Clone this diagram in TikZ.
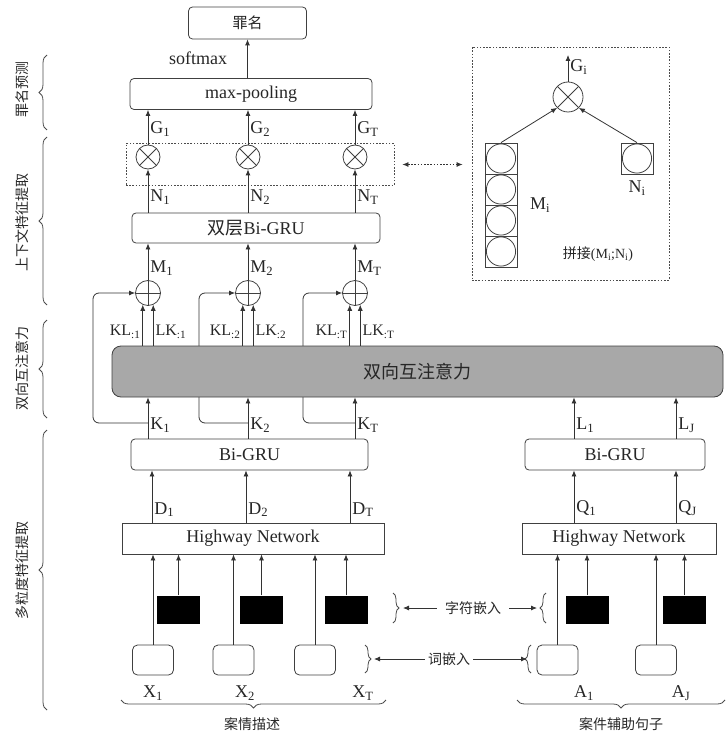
\documentclass[tikz,border=0pt]{standalone}
\usepackage{fontspec}
\setmainfont{Liberation Serif}
\newfontfamily\cjk{Noto Sans CJK SC}
\usetikzlibrary{positioning,arrows.meta,calc,decorations.pathreplacing}

\begin{document}
\begin{tikzpicture}[
  x=1pt, y=-1pt,
  every node/.style={font=\fontsize{18}{20}\selectfont, text=black!85},
  ln/.style={draw=black!75, line width=0.8pt},
  box/.style={ln, rounded corners=4pt, minimum height=30pt, inner sep=0pt},
  flat/.style={ln, minimum height=31pt, inner sep=0pt},
  dotbox/.style={draw=black!70, line width=0.8pt, dash pattern=on 1.6pt off 1.6pt},
  mul/.style={ln, circle, minimum size=24pt, inner sep=0pt, path picture={
      \draw[black!75, line width=0.8pt] (path picture bounding box.south west) -- (path picture bounding box.north east)
        (path picture bounding box.north west) -- (path picture bounding box.south east);}},
  add/.style={ln, circle, minimum size=25pt, inner sep=0pt, path picture={
      \draw[black!75, line width=0.8pt] (path picture bounding box.north) -- (path picture bounding box.south)
        (path picture bounding box.west) -- (path picture bounding box.east);}},
  chr/.style={fill=black, minimum width=43pt, minimum height=28pt, inner sep=0pt},
  wrd/.style={ln, rounded corners=5pt, minimum width=41pt, minimum height=30pt, inner sep=0pt},
  cell/.style={ln, minimum width=32pt, minimum height=31pt, inner sep=0pt, path picture={
      \draw[black!75, line width=0.8pt] (path picture bounding box.center) circle (14.6pt);}},
  arr/.style={black!80, line width=0.8pt, -{Latex[length=6pt, width=5pt]}},
  darr/.style={arr, {Latex[length=6pt, width=5pt]}-{Latex[length=6pt, width=5pt]}, dash pattern=on 1.6pt off 1.6pt},
  lab/.style={anchor=west, inner sep=2pt},
  kl/.style={font=\fontsize{16}{18}\selectfont, inner sep=2pt},
  side/.style={font=\cjk\fontsize{14}{16}\selectfont, rotate=90},
  small/.style={font=\cjk\fontsize{14}{16}\selectfont},
  brc/.style={black!70, line width=0.8pt, decorate, decoration={brace, amplitude=8pt}},
]
\useasboundingbox (0,0) rectangle (725,735);

% prediction
\node[box, minimum width=118pt, minimum height=32pt, font=\cjk\fontsize{15}{17}\selectfont] (crime) at (247.5,23) {罪名};
\node[box, minimum width=242pt, minimum height=31pt] (pool) at (251,94) {max-pooling};
\node (soft) at (198,58) {softmax};
\draw[arr] (crime |- pool.north) -- (crime.south);

% context features
\node[dotbox, minimum width=268pt, minimum height=42pt] (att) at (260,164.5) {};
\node[box, minimum width=248pt] (rnn2) at (256,228) {{\cjk 双层}Bi-GRU};

\foreach \i/\x/\bx in {1/148/93, 2/248/199, 3/355/303}{
  \node[mul] (mul\i) at (\x,157) {};
  \node[add] (add\i) at (\x,293) {};
  \coordinate (bp\i) at (\bx,423);
  % residual path, runs behind the attention block
  \draw[arr, rounded corners=6pt] (add\i |- bp\i) -- (bp\i) |- (add\i.west);
}

% bidirectional attention
\node[fill=black!34, draw=black!75, line width=0.8pt, rounded corners=9pt, minimum width=611pt, minimum height=51pt,
      font=\cjk\fontsize{18}{20}\selectfont] (biatt) at (417.5,371.5) {双向互注意力};

% encoders
\node[box, minimum width=237pt, minimum height=31pt] (gru1) at (249.5,454.5) {Bi-GRU};
\node[box, minimum width=180pt, minimum height=31pt] (gru2) at (615,454.5) {Bi-GRU};
\node[flat, minimum width=262pt] (hw1) at (253,538.5) {Highway Network};
\node[flat, minimum width=194pt] (hw2) at (619,538.5) {Highway Network};

\foreach \i/\s in {1/1, 2/2, 3/T}{
  \draw[arr] (mul\i.north) -- node[lab, pos=.45] {G\textsubscript{\s}} (mul\i |- pool.south);
  \draw[arr] (mul\i |- rnn2.north) -- node[lab, pos=.36] {N\textsubscript{\s}} (mul\i.south);
  \draw[arr] (add\i.north) -- node[lab, pos=.33] {M\textsubscript{\s}} (add\i |- rnn2.south);
  \draw[arr] (add\i.-114 |- biatt.north) -- node[kl, anchor=east, pos=.33] {KL\textsubscript{:\s}} (add\i.-114);
  \draw[arr] (add\i.-66 |- biatt.north) -- node[kl, anchor=west, pos=.33] {LK\textsubscript{:\s}} (add\i.-66);
  \draw[arr] (add\i |- gru1.north) -- node[lab, pos=.33] {K\textsubscript{\s}} (add\i |- biatt.south);
}
\foreach \x/\s in {574/1, 676/J}
  \draw[arr] (gru2.north -| \x,0) -- node[lab, pos=.33] {L\textsubscript{\s}} (biatt.south -| \x,0);
\foreach \x/\s in {152/1, 246/2, 350/T}
  \draw[arr] (hw1.north -| \x,0) -- node[lab, pos=.25] {D\textsubscript{\s}} (gru1.south -| \x,0);
\foreach \x/\s in {574/1, 676/J}
  \draw[arr] (hw2.north -| \x,0) -- node[lab, pos=.28] {Q\textsubscript{\s}} (gru2.south -| \x,0);

% embeddings
\foreach \i/\wx/\cx in {1/153/178.5, 2/233.5/261.5, 3/315/346}{
  \node[wrd] (w\i) at (\wx,660) {};
  \node[chr] (c\i) at (\cx,609.5) {};
  \draw[arr] (w\i.north) -- (w\i |- hw1.south);
  \draw[arr] (c\i.north) -- (c\i |- hw1.south);
}
\foreach \i/\wx/\cx in {1/557.5/587, 2/656/684.5}{
  \node[wrd] (a\i) at (\wx,660) {};
  \node[chr] (d\i) at (\cx,609.5) {};
  \draw[arr] (a\i.north) -- (a\i |- hw2.south);
  \draw[arr] (d\i.north) -- (d\i |- hw2.south);
}
\node (x1) at (153,693) {X\textsubscript{1}};
\node (x2) at (245,693) {X\textsubscript{2}};
\node (xt) at (363,693) {X\textsubscript{T}};
\node (y1) at (584,693) {A\textsubscript{1}};
\node (yj) at (681,693) {A\textsubscript{J}};

% embedding legends
\draw[brc, decoration={brace, amplitude=6pt}] (393,593) -- (393,623);
\draw[brc, decoration={brace, amplitude=6pt}] (546,623) -- (546,593);
\draw[brc, decoration={brace, amplitude=6pt}] (365,645) -- (365,673);
\draw[brc, decoration={brace, amplitude=6pt}] (531,673) -- (531,645);
\coordinate (cbl) at (403,608);
\coordinate (cbr) at (537,608);
\coordinate (wbl) at (374,659);
\coordinate (wbr) at (527,659);
\node[small, inner sep=8pt] (chemb) at (473,608) {字符嵌入};
\node[small, inner sep=3pt] (wemb) at (449,659) {词嵌入};
\draw[arr] (chemb.west) -- (cbl);
\draw[arr] (chemb.east) -- (cbr);
\draw[arr] (wemb.west) -- (wbl);
\draw[arr] (wemb.east) -- (wbr);

% detail of the product
\node[dotbox, minimum width=197pt, minimum height=233pt] (detail) at (570.5,163.5) {};
\draw[darr, shorten <=8pt, shorten >=9pt] (att.east) -- (att.east -| detail.west);
\node[mul, minimum size=30pt] (gi) at (568,97) {};
\coordinate (gtop) at (568,55);
\draw[arr] (gi.north) -- node[lab, pos=.55] {G\textsubscript{i}} (gtop);
\foreach \j/\y in {1/158.5, 2/189.5, 3/220.5, 4/251.5}
  \node[cell] (m\j) at (501,\y) {};
\node[cell] (ni) at (637,158.5) {};
\draw[arr] (m1.north) -- (gi.south west);
\draw[arr] (ni.north) -- (gi.south east);
\node (mil) at (540,205) {M\textsubscript{i}};
\node (nil) at (637,188) {N\textsubscript{i}};
\node[font=\fontsize{14}{16}\selectfont] (cat) at (598,254) {{\cjk 拼接}(M\textsubscript{i};N\textsubscript{i})};

% stages
\draw[brc] (47,130) -- (47,55);
\draw[brc] (47,305) -- (47,137);
\draw[brc] (47,418) -- (47,320);
\draw[brc] (47,710) -- (47,430);
\node[side] (s1) at (22,90) {罪名预测};
\node[side] (s2) at (22,222) {上下文特征提取};
\node[side] (s3) at (22,368) {双向互注意力};
\node[side] (s4) at (22,570) {多粒度特征提取};
\draw[brc] (386,700) -- (121,700);
\draw[brc] (725,700) -- (517,700);
\node[small] (case) at (252,724) {案情描述};
\node[small] (aux) at (621,724) {案件辅助句子};
\end{tikzpicture}
\end{document}
